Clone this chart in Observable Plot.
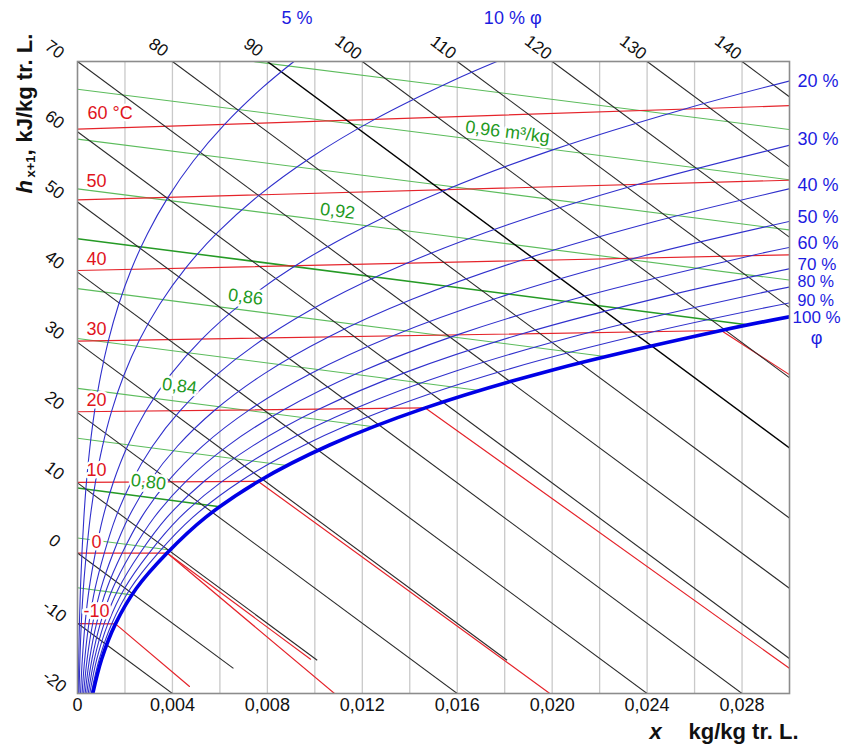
<!DOCTYPE html>
<html>
<head>
<meta charset="utf-8">
<script src="https://cdn.jsdelivr.net/npm/d3@7"></script>
<script src="https://cdn.jsdelivr.net/npm/@observablehq/plot@0.6"></script>
<style>
  html, body { margin: 0; padding: 0; background: #fff; }
  svg { display: block; }
</style>
</head>
<body>
<div id="chart"></div>
<script>
// ---------------- DATA ----------------
// x axis: water content x (kg/kg dry air); vertical: h(x+1) at x = 0 (kJ/kg)
const xTicks = [0, 0.004, 0.008, 0.012, 0.016, 0.020, 0.024, 0.028];
const xTickLabels = ["0", "0,004", "0,008", "0,012", "0,016", "0,020", "0,024", "0,028"];
const xGrid = [0.002, 0.004, 0.006, 0.008, 0.010, 0.012, 0.014, 0.016, 0.018, 0.020, 0.022, 0.024, 0.026, 0.028];
const yTicks = [-20, -10, 0, 10, 20, 30, 40, 50, 60, 70];

// isenthalps (black lines): h value, start and end point [x, Y]
const isenthalpH = [-10, 0, 10, 20, 30, 40, 50, 60, 70, 80, 90, 100, 110, 120, 130, 140];
const isenthalpStart = [[0,-10],[0,0],[0,10],[0,20],[0,30],[0,40],[0,50],[0,60],[0,70],
  [0.004,70],[0.008,70],[0.012,70],[0.016,70],[0.020,70],[0.024,70],[0.028,70]];
const isenthalpEnd = [[0.004,-20],[0.00657,-16.43],[0.0101,-15.26],[0.016,-20],[0.0181,-15.27],
  [0.024,-20],[0.028,-20],[0.03,-15.03],[0.03,-5.03],[0.03,4.97],[0.03,14.97],[0.03,24.97],
  [0.03,34.97],[0.03,44.97],[0.03,54.97],[0.03,64.97]];

// isotherms (red): unsaturated part and fog part
const isothermT = [-10, 0, 10, 20, 30, 40, 50, 60];
const isothermLabels = ["-10", "0", "10", "20", "30", "40", "50", "60 °C"];
const isothermDry = [
  [[0,-10.06],[0.0016,-10.09]],
  [[0,0],[0.003775,0]],
  [[0,10.06],[0.007618,10.20]],
  [[0,20.12],[0.014656,20.67]],
  [[0,30.18],[0.027122,31.69]],
  [[0,40.24],[0.03,42.47]],
  [[0,50.30],[0.03,53.09]],
  [[0,60.36],[0.03,63.71]]
];
const isothermFog = [
  [[0.0016,-10.09],[0.00472,-19.0]],
  [[0.003775,0],[0.00982,-15.12]],
  [[0.003775,0],[0.01083,-20]],
  [[0.007618,10.20],[0.0199,-20]],
  [[0.014656,20.67],[0.03,-16.42]],
  [[0.027122,31.69],[0.03,25.4]]
];

// isochores (green), m³/kg
const isochoreV = [0.76, 0.78, 0.80, 0.82, 0.84, 0.86, 0.88, 0.90, 0.92, 0.94, 0.96, 0.98];
const isochorePts = [
  [[0,-4.95],[0.00229,-5.95]],
  [[0,2.15],[0.0039,0.43]],
  [[0,9.25],[0.005995,6.61]],
  [[0,16.35],[0.00883,12.47]],
  [[0,23.45],[0.01248,17.98]],
  [[0,30.55],[0.0085,26.85],[0.01694,23.15]],
  [[0,37.65],[0.015,31.13],[0.02223,27.99]],
  [[0,44.76],[0.015,38.26],[0.02829,32.48]],
  [[0,51.86],[0.015,45.39],[0.03,38.87]],
  [[0,58.95],[0.015,52.51],[0.03,46.01]],
  [[0,66.05],[0.015,59.64],[0.03,53.16]],
  [[0.00741,70],[0.015,66.76],[0.03,60.31]]
];
const isochoreLabelText = ["0,80", "0,84", "0,86", "0,92", "0,96 m³/kg"];
const isochoreLabelX = [0.00299, 0.0043, 0.00708, 0.01096, 0.01812];
const isochoreLabelY = [10.11, 23.78, 36.46, 48.70, 59.95];

// relative humidity curves (blue), points [x, Y]
const phi5 = [[0.0000317,-20.12],[0.000051,-15.09],[0.00008,-10.06],[0.000124,-5.03],[0.000188,0],[0.000268,5.03],[0.000376,10.07],[0.000523,15.11],[0.000717,20.15],[0.000971,25.19],[0.001302,30.25],[0.001727,35.32],[0.00227,40.41],[0.002954,45.52],[0.003813,50.65],[0.00488,55.83],[0.006198,61.05],[0.007815,66.34],[0.00912,70]];
const phi10 = [[0.0000635,-20.12],[0.000102,-15.09],[0.00016,-10.06],[0.000247,-5.03],[0.000375,0],[0.000535,5.03],[0.000754,10.07],[0.001047,15.12],[0.001435,20.17],[0.001946,25.24],[0.00261,30.33],[0.003465,35.44],[0.004556,40.58],[0.005937,45.77],[0.007672,51.01],[0.009837,56.34],[0.01252,61.76],[0.015829,67.30],[0.01767,70]];
const phi20 = [[0.000127,-20.12],[0.000203,-15.10],[0.000319,-10.07],[0.000493,-5.03],[0.000751,0],[0.001072,5.04],[0.001509,10.09],[0.002096,15.15],[0.002877,20.23],[0.003904,25.33],[0.005241,30.47],[0.006968,35.66],[0.009179,40.92],[0.011988,46.27],[0.015535,51.74],[0.01999,57.38],[0.025554,63.21],[0.03,67.23]];
const phi30 = [[0.00019,-20.13],[0.000305,-15.10],[0.000479,-10.07],[0.000741,-5.04],[0.001128,0],[0.001609,5.05],[0.002266,10.10],[0.00315,15.18],[0.004326,20.28],[0.005874,25.42],[0.007896,30.62],[0.010511,35.89],[0.013871,41.27],[0.018157,46.79],[0.023598,52.49],[0.03,58.07]];
const phi40 = [[0.000254,-20.13],[0.000406,-15.10],[0.000639,-10.07],[0.000988,-5.04],[0.001505,0],[0.002148,5.05],[0.003025,10.12],[0.004207,15.21],[0.005781,20.34],[0.007857,25.52],[0.010572,30.77],[0.014094,36.13],[0.018633,41.63],[0.024447,47.32],[0.03,51.87]];
const phi50 = [[0.000317,-20.13],[0.000508,-15.10],[0.000799,-10.07],[0.001236,-5.04],[0.001882,0],[0.002687,5.05],[0.003786,10.13],[0.005268,15.24],[0.007243,20.39],[0.009853,25.61],[0.013272,30.92],[0.017718,36.36],[0.023467,41.99],[0.03,47.23]];
const phi60 = [[0.000381,-20.13],[0.00061,-15.11],[0.000958,-10.08],[0.001483,-5.04],[0.002259,0],[0.003227,5.06],[0.004549,10.14],[0.006331,15.27],[0.008712,20.44],[0.011861,25.70],[0.015994,31.07],[0.021384,36.60],[0.028374,42.35],[0.03,43.53]];
const phi70 = [[0.000444,-20.14],[0.000711,-15.11],[0.001119,-10.08],[0.001731,-5.05],[0.002637,0],[0.003768,5.07],[0.005313,10.16],[0.007399,15.30],[0.010187,20.50],[0.013882,25.80],[0.018741,31.23],[0.025092,36.84],[0.03,40.48]];
const phi80 = [[0.000508,-20.14],[0.000813,-15.11],[0.001279,-10.08],[0.001979,-5.05],[0.003016,0],[0.004311,5.07],[0.00608,10.17],[0.008471,15.33],[0.01167,20.55],[0.015915,25.89],[0.021511,31.38],[0.028842,37.09],[0.03,37.89]];
const phi90 = [[0.000571,-20.14],[0.000915,-15.12],[0.001439,-10.09],[0.002228,-5.05],[0.003395,0],[0.004853,5.08],[0.006848,10.19],[0.009546,15.36],[0.013159,20.61],[0.017963,25.99],[0.024304,31.54],[0.03,35.63]];
const phi100 = [[0.000635,-20.14],[0.001016,-15.12],[0.0016,-10.09],[0.002476,-5.05],[0.003775,0],[0.005397,5.08],[0.007618,10.20],[0.010625,15.39],[0.014656,20.67],[0.020022,26.08],[0.027122,31.69],[0.03,33.65]];

const phiLevels = [5, 10, 20, 30, 40, 50, 60, 70, 80, 90];
const phiCurves = [phi5, phi10, phi20, phi30, phi40, phi50, phi60, phi70, phi80, phi90];
const phiTopLabels = ["5 %", "10 % φ"];
const phiRightLevels = [20, 30, 40, 50, 60, 70, 80, 90, 100];
const phiRightLabels = ["20 %", "30 %", "40 %", "50 %", "60 %", "70 %", "80 %", "90 %", "100 %"];

// ---------------- STYLE ----------------
const FONT = "'Liberation Sans', Arial, Helvetica, sans-serif";
const RED = "#e5242b", RED_TXT = "#e0141c";
const GREEN = "#5cbc5c", GREEN_DARK = "#259a25", GREEN_TXT = "#1f9a1f";
const BLUE = "#3030cc", BLUE_SAT = "#0000e6", BLUE_TXT = "#1c1ce0";
const BLACK = "#2b2b2b";
const isoLabelDy = [-12, -11, -12, -12, -12, -11, -19, -16];
const rightLabelDy = [0, -6, -4, -4, -4, -4, -5, -2, 1];
const rightLabelSize = [18, 18, 18, 18, 18, 17, 16, 16, 17];
const halo = {stroke: "white", strokeWidth: 5, paintOrder: "stroke", strokeLinejoin: "round"};

// ---------------- BUILD ----------------
const toRows = (curves, keys) =>
  curves.flatMap((pts, i) => pts.map(([x, y]) => ({x, y, k: keys[i]})));

const isenthalps = isenthalpH.map((h, i) => ({
  h, x1: isenthalpStart[i][0], y1: isenthalpStart[i][1],
  x2: isenthalpEnd[i][0], y2: isenthalpEnd[i][1]
}));
const dryRows = toRows(isothermDry, isothermT);
const fogRows = toRows(isothermFog, isothermFog.map((_, i) => "f" + i));
const isoRows = toRows(isochorePts, isochoreV);
const phiRows = toRows(phiCurves, phiLevels);
const satRows = toRows([phi100], [100]);
const allPhi = [...phiCurves, phi100];
const lastPoint = lvl => {
  const c = allPhi[[...phiLevels, 100].indexOf(lvl)];
  return c[c.length - 1];
};

const marks = [
  Plot.ruleX(xGrid, {x: d => d, stroke: "#c9c9c9", strokeWidth: 1.3}),
  // isochores
  Plot.line(isoRows.filter(d => d.k !== 0.80 && d.k !== 0.90),
    {x: "x", y: "y", z: "k", stroke: GREEN, strokeWidth: 1.1, clip: true}),
  Plot.line(isoRows.filter(d => d.k === 0.80 || d.k === 0.90),
    {x: "x", y: "y", z: "k", stroke: GREEN_DARK, strokeWidth: 1.5, clip: true}),
  // isotherms
  Plot.line(dryRows, {x: "x", y: "y", z: "k", stroke: RED, strokeWidth: 1.2, clip: true}),
  Plot.line(fogRows, {x: "x", y: "y", z: "k", stroke: RED, strokeWidth: 1.2, clip: true}),
  // isenthalps
  Plot.link(isenthalps.filter(d => d.h !== 90),
    {x1: "x1", y1: "y1", x2: "x2", y2: "y2", stroke: BLACK, strokeWidth: 1.1, clip: true}),
  Plot.link(isenthalps.filter(d => d.h === 90),
    {x1: "x1", y1: "y1", x2: "x2", y2: "y2", stroke: "#000", strokeWidth: 1.45, clip: true}),
  // relative humidity
  Plot.line(phiRows, {x: "x", y: "y", z: "k", stroke: BLUE, strokeWidth: 1.1, curve: "catmull-rom", clip: true}),
  Plot.line(satRows, {x: "x", y: "y", stroke: BLUE_SAT, strokeWidth: 3.6, curve: "catmull-rom", clip: true}),
  Plot.frame({stroke: "#8c8c8c", strokeWidth: 1.6}),

  // x tick labels
  Plot.text(xTicks, {x: d => d, y: -20, text: (d, i) => xTickLabels[i], dy: 12,
    fontSize: 18, fill: "#111", lineAnchor: "middle"}),
  // y tick labels (tilted)
  Plot.text(yTicks, {x: 0, y: d => d, text: d => String(d), rotate: 37, dx: -23, dy: -12,
    fontSize: 17, fill: "#111", lineAnchor: "middle"}),
  // top enthalpy labels
  Plot.text(isenthalps.filter(d => d.h >= 80), {x: "x1", y: "y1", text: d => String(d.h),
    rotate: 37, dx: -14, dy: -14, fontSize: 17, fill: "#111", lineAnchor: "middle"}),

  // isotherm labels
  ...isothermT.map((t, i) => Plot.text([t], {
    x: 0, y: isothermDry[i][0][1], text: () => isothermLabels[i],
    dx: i === 7 ? 10 : 19, dy: isoLabelDy[i],
    textAnchor: i === 7 ? "start" : "middle", lineAnchor: "middle",
    fontSize: 18, fill: RED_TXT, ...halo
  })),
  // isochore labels
  Plot.text(isochoreLabelText, {x: (d, i) => isochoreLabelX[i], y: (d, i) => isochoreLabelY[i],
    text: d => d, rotate: 7, fontSize: 18, fill: GREEN_TXT, lineAnchor: "middle", ...halo}),

  // phi labels at top
  Plot.text([phiTopLabels[0]], {x: phi5[phi5.length - 1][0], y: 70, text: d => d,
    dx: 3, dy: -43, fontSize: 18, fill: BLUE_TXT, lineAnchor: "middle"}),
  Plot.text([phiTopLabels[1]], {x: phi10[phi10.length - 1][0], y: 70, text: d => d,
    dx: -13, dy: -43, textAnchor: "start", fontSize: 18, fill: BLUE_TXT, lineAnchor: "middle"}),
  // phi labels at right
  ...phiRightLevels.map((lvl, i) => Plot.text([phiRightLabels[i]], {
    x: 0.03, y: lastPoint(lvl)[1], text: d => d,
    dx: lvl === 100 ? 3 : 8, dy: rightLabelDy[i],
    textAnchor: "start", lineAnchor: "middle", fontSize: rightLabelSize[i], fill: BLUE_TXT
  })),
  Plot.text(["φ"], {x: 0.03, y: lastPoint(100)[1], text: d => d, dx: 27, dy: 21,
    textAnchor: "middle", lineAnchor: "middle", fontSize: 18, fill: BLUE_TXT}),

  // axis titles
  Plot.text(["h"], {frameAnchor: "top-left", text: d => d, rotate: -90, dx: -46, dy: 132,
    textAnchor: "start", lineAnchor: "bottom", fontSize: 22, fontWeight: "bold",
    fontStyle: "italic", fill: "#111"}),
  Plot.text(["x+1"], {frameAnchor: "top-left", text: d => d, rotate: -90, dx: -43, dy: 116,
    textAnchor: "start", lineAnchor: "bottom", fontSize: 13, fontWeight: "bold", fill: "#111"}),
  Plot.text([","], {frameAnchor: "top-left", text: d => d, rotate: -90, dx: -46, dy: 94,
    textAnchor: "start", lineAnchor: "bottom", fontSize: 22, fontWeight: "bold", fill: "#111"}),
  Plot.text(["kJ/kg tr. L."], {frameAnchor: "top-left", text: d => d, rotate: -90, dx: -46, dy: 81,
    textAnchor: "start", lineAnchor: "bottom", fontSize: 22, fontWeight: "bold", fill: "#111"}),
  Plot.text(["x"], {frameAnchor: "bottom-left", text: d => d, dx: 578, dy: 45,
    textAnchor: "middle", lineAnchor: "bottom", fontSize: 22, fontWeight: "bold",
    fontStyle: "italic", fill: "#111"}),
  Plot.text(["kg/kg tr. L."], {frameAnchor: "bottom-left", text: d => d, dx: 611, dy: 45,
    textAnchor: "start", lineAnchor: "bottom", fontSize: 22, fontWeight: "bold", fill: "#111"})
];

const chart = Plot.plot({
  width: 845,
  height: 744,
  marginLeft: 77,
  marginRight: 56,
  marginTop: 61,
  marginBottom: 51,
  x: {domain: [0, 0.03], axis: null},
  y: {domain: [-20, 70], axis: null},
  style: {fontFamily: FONT, background: "white", overflow: "visible"},
  marks
});
document.getElementById("chart").appendChild(chart);
</script>
</body>
</html>
